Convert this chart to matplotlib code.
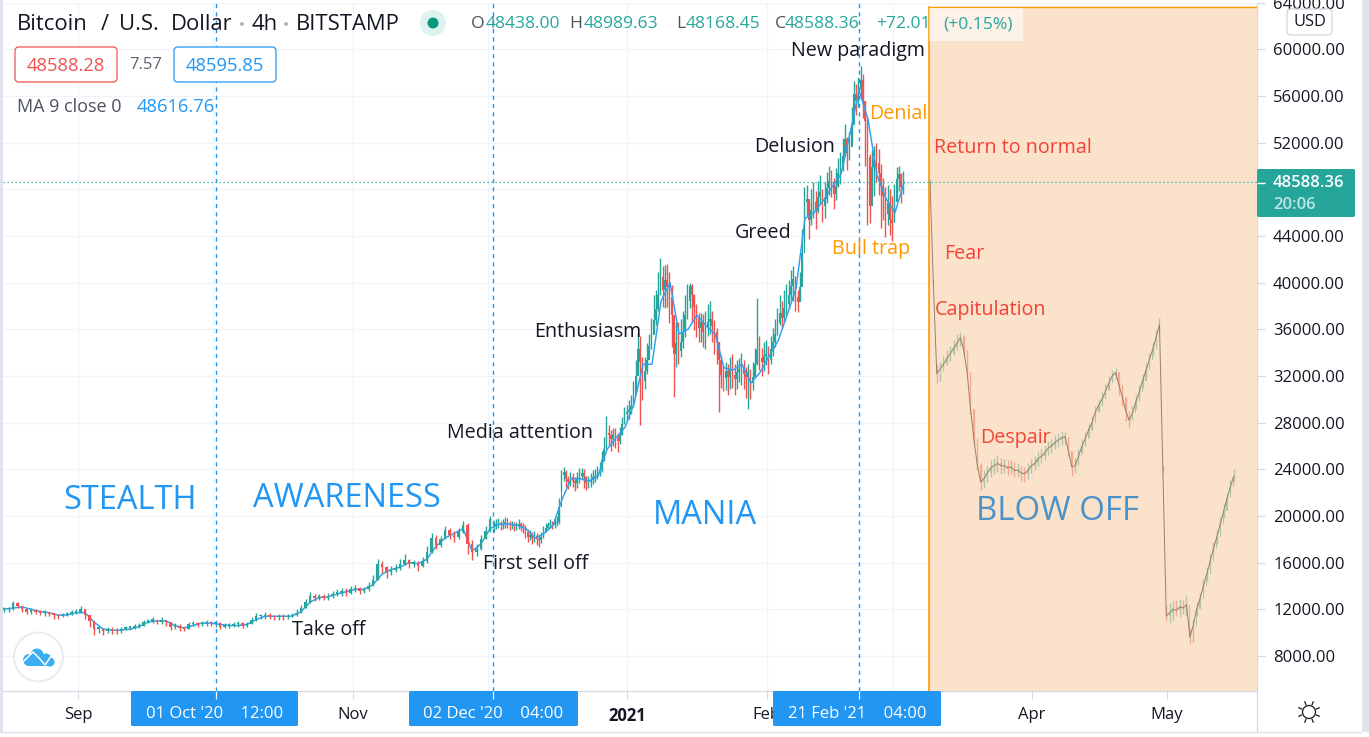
#!/usr/bin/env python3
# -*- coding: utf-8 -*-
import numpy as np
import matplotlib
matplotlib.use("Agg")
import matplotlib.pyplot as plt
from matplotlib.patches import Rectangle, FancyBboxPatch, Circle

plt.rcParams['font.family'] = ['Open Sans', 'DejaVu Sans']

# ---- data, prices in thousand USD ----
# Sep - start of Dec, one candle per day
close_early = [
    12.0,12.0,12.5,12.3,12.0,11.8,11.9,11.8,11.7,11.7,
    11.6,11.5,11.4,11.5,11.6,11.7,11.8,12.0,11.5,11.0,
    10.3,10.3,10.1,10.3,10.2,10.1,10.3,10.4,10.4,10.5,
    10.6,10.9,11.0,11.0,10.9,11.1,10.9,10.5,10.6,10.4,
    10.3,10.7,10.8,10.7,10.8,10.9,10.8,10.8,10.5,10.6,
    10.6,10.7,10.8,10.6,10.7,11.1,11.4,11.4,11.5,11.4,
    11.3,11.4,11.3,11.4,11.5,11.7,12.1,12.6,13.1,13.0,
    13.1,13.0,13.1,13.3,13.4,13.5,13.4,13.7,13.8,13.6,
    13.7,14.0,14.5,15.9,15.6,15.2,15.4,15.5,15.9,16.2,
    15.9,15.9,15.7,16.1,16.9,18.1,17.5,18.0,18.8,18.4,
    18.2,18.6,19.2,17.6,16.9,17.2,18.0,18.7,19.7]
high_early = [
    12.2,12.2,12.7,12.6,12.3,12.0,12.1,12.0,11.9,11.9,
    11.8,11.7,11.6,11.7,11.8,11.9,12.0,12.3,12.0,11.5,
    11.0,10.6,10.4,10.5,10.5,10.4,10.5,10.6,10.6,10.7,
    10.8,11.1,11.2,11.3,11.1,11.3,11.1,10.9,10.8,10.7,
    10.5,10.9,11.0,10.9,11.0,11.1,11.0,11.0,10.9,10.8,
    10.8,10.9,11.0,10.9,10.9,11.3,11.7,11.6,11.8,11.7,
    11.5,11.6,11.6,11.6,11.7,12.0,12.4,12.9,13.5,13.3,
    13.3,13.3,13.4,13.6,13.7,13.8,13.8,14.0,14.1,13.9,
    13.9,14.3,14.9,16.3,16.1,15.7,15.7,15.9,16.3,16.7,
    16.3,16.2,16.1,16.5,17.4,18.5,18.4,18.3,19.1,19.0,
    18.7,19.0,19.6,19.4,17.9,17.6,18.4,19.1,20.0]
low_early = [
    11.8,11.8,11.9,12.1,11.8,11.6,11.6,11.6,11.5,11.4,
    11.4,11.2,11.2,11.3,11.4,11.5,11.6,11.7,11.2,10.5,
    9.8,10.0,9.8,10.0,9.9,9.9,10.0,10.2,10.2,10.3,
    10.4,10.6,10.8,10.8,10.7,10.7,10.6,10.2,10.3,10.1,
    10.1,10.3,10.6,10.5,10.6,10.6,10.6,10.5,10.3,10.4,
    10.4,10.5,10.5,10.4,10.5,10.7,11.0,11.2,11.2,11.2,
    11.1,11.1,11.1,11.2,11.3,11.4,11.7,12.1,12.5,12.7,
    12.8,12.8,12.8,13.0,13.1,13.1,13.1,13.3,13.5,13.3,
    13.4,13.6,14.0,14.5,15.1,14.7,14.9,15.2,15.4,15.8,
    15.5,15.6,15.3,15.6,16.0,16.8,17.2,17.3,18.0,18.0,
    17.8,18.0,18.5,16.7,16.2,16.6,17.1,18.0,18.6]

# Dec - Mar, two candles per day
close_mania = [
    19.1,19.3,19.4,19.2,19.3,19.5,19.4,19.2,19.3,19.1,
    19.2,19.3,19.1,19.0,18.6,18.2,18.4,18.1,18.3,18.0,
    17.9,18.2,18.6,19.0,19.2,19.3,19.2,19.4,19.5,20.8,
    23.5,23.8,23.2,22.9,23.3,23.0,22.8,23.2,23.4,23.7,
    23.3,22.8,22.9,23.1,23.3,23.4,23.7,23.9,24.8,25.7,
    27.1,26.9,26.6,26.9,26.7,26.4,26.9,27.9,28.7,28.9,
    29.1,29.4,30.4,32.0,34.3,33.2,31.6,32.4,33.4,34.6,
    35.5,36.8,37.7,38.9,40.5,39.4,40.2,39.6,38.8,37.2,
    33.9,34.8,34.1,34.9,35.8,37.2,38.4,39.7,38.9,37.9,
    37.0,36.1,36.6,35.8,36.2,36.6,36.9,36.3,35.8,34.9,
    33.4,32.1,31.8,32.4,31.9,32.5,32.1,31.7,32.3,32.6,
    32.8,32.2,31.9,32.3,31.4,31.9,33.0,34.2,33.5,33.2,
    33.7,33.9,33.4,34.3,34.9,35.6,36.5,37.4,37.0,37.8,
    38.2,38.9,39.7,40.3,38.8,38.3,39.6,42.5,46.9,47.2,
    45.4,46.2,46.9,46.1,47.3,47.8,46.6,47.2,48.1,48.7,
    48.6,47.6,48.3,49.4,49.9,50.9,52.3,51.1,51.6,53.5,
    56.2,55.6,56.6,57.4,55.6,53.9,50.8,46.6,49.9,50.6,
    50.3,49.4,48.3,47.4,45.9,46.8,45.4,45.1,46.9,48.9,
    49.3,48.2,48.6]
high_mania = [
    19.6,19.7,19.8,19.6,19.7,19.9,19.8,19.6,19.6,19.5,
    19.5,19.7,19.5,19.4,19.2,18.9,18.8,18.6,18.7,18.5,
    18.4,18.6,19.1,19.4,19.5,19.7,19.6,19.8,20.0,21.5,
    23.9,24.2,23.9,23.4,23.8,23.7,23.3,23.8,24.1,24.1,
    24.0,23.4,23.4,23.7,23.9,24.0,24.3,24.6,25.6,26.8,
    28.6,27.8,27.4,27.5,27.5,27.1,27.6,28.5,29.3,29.5,
    29.9,30.4,31.6,33.4,35.7,35.4,33.6,33.6,34.8,35.6,
    37.0,38.9,39.4,40.9,42.1,41.4,41.5,41.6,40.9,39.8,
    36.4,36.6,36.6,36.9,37.6,38.9,39.9,40.0,39.9,39.0,
    38.2,37.4,37.4,37.3,37.6,38.2,38.4,37.6,36.8,36.1,
    34.9,33.8,32.9,33.2,33.0,33.6,33.9,33.0,33.4,33.5,
    34.0,33.4,32.8,33.0,32.6,33.2,34.4,38.7,35.4,34.4,
    34.9,35.1,34.6,35.4,36.1,36.9,37.8,38.9,38.4,39.4,
    39.9,40.2,41.1,41.4,40.6,39.4,40.9,44.6,48.2,48.4,
    47.0,48.0,48.6,47.9,48.7,49.2,48.0,48.6,49.5,50.0,
    49.7,49.0,49.8,50.7,51.2,52.4,53.6,52.5,52.9,55.1,
    57.3,57.0,57.6,58.6,57.9,55.6,54.2,51.0,51.4,51.7,
    52.0,51.5,50.2,49.0,48.2,48.4,48.0,47.4,48.5,49.9,
    50.0,49.4,49.6]
low_mania = [
    18.6,18.9,19.0,18.8,18.9,19.0,19.0,18.8,18.9,18.7,
    18.8,18.9,18.7,18.5,18.1,17.8,17.9,17.6,17.8,17.5,
    17.3,17.7,18.1,18.6,18.8,19.0,18.9,19.0,19.1,19.3,
    22.1,23.0,22.5,22.3,22.6,22.5,22.1,22.4,22.8,23.1,
    22.4,22.2,22.4,22.5,22.7,22.9,23.2,23.4,23.8,24.7,
    25.8,26.0,25.6,26.0,25.8,25.5,26.2,26.9,27.9,28.2,
    28.3,28.7,29.3,30.8,32.3,27.8,29.9,30.9,32.2,33.5,
    34.3,35.7,36.4,37.6,38.9,37.9,37.8,37.9,36.5,34.5,
    30.2,32.8,33.0,33.6,34.4,35.3,36.9,37.8,36.6,35.9,
    35.3,34.9,34.9,34.5,34.3,35.4,35.6,34.9,33.9,33.0,
    28.9,31.0,30.7,30.8,30.4,30.9,31.0,30.4,30.9,31.5,
    31.2,30.9,30.1,29.2,30.0,30.8,31.9,32.9,32.5,32.0,
    32.4,32.9,32.2,33.0,33.7,34.5,35.5,36.4,36.1,36.7,
    37.2,37.7,38.5,38.4,37.6,37.5,38.4,40.5,43.5,45.7,
    43.7,44.9,45.5,44.6,46.0,46.7,45.2,45.5,46.8,47.5,
    47.3,46.3,47.1,48.2,48.5,49.6,50.9,49.7,50.5,52.1,
    54.9,54.4,55.1,55.9,54.1,50.0,44.9,45.1,47.9,47.4,
    48.6,47.5,44.7,45.4,43.9,44.9,44.1,43.6,45.3,47.4,
    47.9,46.8,47.6]

# blow off pattern pasted in the shaded box
close_blow = [
    48.6,40.0,32.2,32.6,33.0,33.5,33.9,34.4,34.8,35.3,
    34.2,32.3,29.2,26.6,24.4,22.9,23.2,23.7,24.1,24.3,
    24.5,24.3,24.3,24.1,24.2,23.9,23.9,23.7,23.6,23.9,
    24.3,24.5,24.9,25.1,25.4,25.8,26.0,26.3,26.5,26.7,
    26.8,25.6,24.2,24.3,25.1,26.0,26.6,27.4,28.0,28.9,
    29.5,30.0,30.7,31.4,32.0,32.3,31.2,30.2,29.0,28.2,
    28.8,29.8,30.6,31.6,32.5,33.4,34.3,35.3,36.4,24.0,
    11.4,11.7,12.0,11.9,12.2,12.1,12.4,9.6,10.6,12.0,
    12.9,14.0,15.0,16.1,17.2,18.2,19.3,20.4,21.5,22.5,
    23.4]
high_blow = [
    48.9,40.3,33.0,33.2,33.7,34.2,34.6,35.1,35.6,35.8,
    35.5,34.2,32.3,29.2,26.6,24.5,23.9,24.3,24.8,25.0,
    25.2,25.0,24.9,24.8,24.8,24.6,24.5,24.3,24.2,24.5,
    24.9,25.1,25.5,25.7,26.0,26.4,26.6,26.9,27.1,27.3,
    27.2,26.8,25.6,25.0,25.7,26.6,27.2,27.9,28.6,29.4,
    30.0,30.6,31.3,32.0,32.5,32.7,32.3,31.2,30.2,29.0,
    29.4,30.4,31.2,32.2,33.1,34.0,34.9,35.9,37.0,24.3,
    12.3,12.5,12.7,12.8,12.9,12.8,13.1,10.4,11.2,12.6,
    13.4,14.6,15.6,16.7,17.8,18.8,19.9,21.0,22.0,23.1,
    24.0]
low_blow = [
    48.2,39.7,31.4,31.6,32.4,32.9,33.3,33.8,34.2,34.6,
    33.6,31.8,28.7,26.1,23.9,22.2,22.4,22.9,23.3,23.6,
    23.8,23.6,23.7,23.5,23.6,23.3,23.3,23.0,22.9,23.2,
    23.7,23.9,24.3,24.5,24.8,25.2,25.4,25.7,25.9,26.1,
    26.2,25.1,23.4,23.7,24.5,25.4,26.0,26.8,27.4,28.3,
    28.9,29.4,30.1,30.8,31.5,31.7,30.4,29.4,28.1,27.5,
    28.2,29.2,30.0,31.0,31.9,32.8,33.7,34.7,35.8,23.7,
    11.0,10.8,11.1,11.4,11.3,11.6,11.5,9.0,9.2,11.4,
    12.3,13.4,14.4,15.5,16.6,17.6,18.7,19.8,20.9,21.9,
    22.9]

# moving average, one point every two days
ma_values = [
    12.0,12.1,12.2,12.0,11.8,11.7,11.5,11.5,11.7,11.7,
    10.9,10.3,10.2,10.2,10.3,10.5,10.9,11.0,11.0,10.6,
    10.4,10.6,10.8,10.8,10.7,10.6,10.6,10.7,11.1,11.4,
    11.4,11.4,11.4,11.8,12.6,13.0,13.05,13.3,13.5,13.7,
    13.7,14.1,15.0,15.4,15.6,16.0,15.9,16.3,17.4,18.1,
    18.5,18.9,17.0,17.6,18.9,19.3,19.3,19.2,18.9,18.1,
    18.5,19.2,21.4,23.2,23.2,23.0,23.4,25.7,26.7,27.6,
    29.6,33.0,33.0,38.4,40.0,35.6,36.0,37.2,36.3,35.6,
    32.7,32.5,33.0,31.4,32.3,33.7,35.0,37.2,39.5,45.5,
    46.0,47.0,48.2,49.3,52.8,56.5,54.0,49.2,47.2,46.0,
    48.6]

price_ticks = [8000, 12000, 16000, 20000, 24000, 28000, 32000, 36000,
               40000, 44000, 48000, 52000, 56000, 60000, 64000]
month_days = [0, 30, 61, 91, 122, 153, 181, 212, 242]
month_labels = ['Sep', '', 'Nov', '', '2021', 'Feb', '', 'Apr', 'May']
crosshair_days = [30.6, 92.2, 173.5]
crosshair_labels = ["01 Oct '20    12:00", "02 Dec '20    04:00", "21 Feb '21    04:00"]
last_price = 48588.36

UP = '#26a69a'
DOWN = '#ef5350'
BLUE = '#2196f3'
ORANGE = '#ff9800'
RED = '#f44336'
INK = '#131722'
GRID = '#f0f3fa'
EDGE = '#d6d9e2'

W, H = 1369, 737


def candles(ax, start, step, close, high, low, zorder=2, body=0.8, wick=1.0, min_h=90, gap=np.inf):
    close = np.array(close) * 1000
    high = np.array(high) * 1000
    low = np.array(low) * 1000
    days = start + step * np.arange(len(close))
    opens = np.r_[close[0], close[:-1]]
    colors = np.where(close >= opens, UP, DOWN)
    # a jump bigger than gap gets no body, only the close line shows it
    jump = np.abs(close - opens)
    bottoms = np.where(jump > gap, close, np.minimum(close, opens))
    heights = np.where(jump > gap, min_h, np.maximum(jump, min_h))
    ax.vlines(days, low, high, colors=colors, lw=wick, zorder=zorder)
    ax.bar(days, heights, bottom=bottoms, width=step * body, color=colors, lw=0, zorder=zorder)
    return days, close


fig = plt.figure(figsize=(W / 100, H / 100), dpi=100, facecolor='white')

# main chart, placed so the pixels line up with the screenshot
top_px = 2.73
ax = fig.add_axes([3 / W, (H - 691) / H, 1254 / W, (691 - top_px) / H])
ax.set_xlim(-16.667, 262)
ax.set_ylim(4986, 64000)
ax.set_axisbelow(True)
ax.yaxis.tick_right()
ax.set_yticks(price_ticks)
# 48000 sits behind the last price box
ax.set_yticklabels(['' if t == 48000 else f'{t:.2f}' for t in price_ticks])
ax.set_xticks(month_days)
ax.set_xticklabels(month_labels)
ax.get_xticklabels()[4].set_fontweight('bold')
ax.tick_params(axis='y', length=5.8, width=0.8, color=EDGE, pad=5.8, labelsize=12, labelcolor=INK)
ax.tick_params(axis='x', length=5.8, width=0.8, color=EDGE, pad=5.5, labelsize=12, labelcolor=INK)
ax.grid(True, color=GRID, lw=0.9)
for name, spine in ax.spines.items():
    spine.set_visible(name in ('right', 'bottom'))
    spine.set_color(EDGE)
    spine.set_linewidth(0.9)

# early candles sit above the average, the wild ones below it
candles(ax, -16.44, 1.0, close_early, high_early, low_early, zorder=2.6, body=0.6, min_h=140)
candles(ax, 92.44, 0.5, close_mania, high_mania, low_mania)
ma_days = -16.44 + 2.0 * np.arange(len(ma_values))
ax.plot(ma_days, np.array(ma_values) * 1000, color='#2f9ff5', lw=1.05, zorder=2.5)

blow_days, blow_close = candles(ax, 189.33, 0.75, close_blow, high_blow, low_blow, body=0.32, gap=5000)
box_left, box_right, box_top = 189.1, 262, 63630
ax.add_patch(Rectangle((box_left, 4986), box_right - box_left, box_top - 4986,
                       facecolor='#fad5b0', alpha=0.65, lw=0, zorder=3))
ax.plot(blow_days, blow_close, color='#96806c', lw=0.7, zorder=3.2)
ax.plot([box_left, box_left], [4986, box_top], color=ORANGE, lw=1.2, zorder=3.4)
ax.plot([box_left, box_right], [box_top, box_top], color=ORANGE, lw=1.0, zorder=3.4)

for day in crosshair_days:
    ax.axvline(day, color=BLUE, lw=1.0, dashes=(3, 3), zorder=2.7)
ax.axhline(last_price, color=UP, lw=0.9, dashes=(1, 2.2), zorder=3.6)

# everything from here on is in screen pixels
ui = fig.add_axes([0, 0, 1, 1])
ui.set_xlim(0, W)
ui.set_ylim(H, 0)
ui.axis('off')
ui.patch.set_visible(False)


def label(x, y, s, color=INK, size=14.2, ha='left', **kw):
    # +2: va=center sits a little high for this font
    ui.text(x, y + 2, s, color=color, fontsize=size, ha=ha, va='center', **kw)


def button(x0, y0, x1, y1, edge, face='white'):
    ui.add_patch(FancyBboxPatch((x0 + 3, y0 + 3), x1 - x0 - 6, y1 - y0 - 6,
                                boxstyle='round,pad=3,rounding_size=4',
                                fc=face, ec=edge, lw=0.9, zorder=4))


# frame of the window
ui.add_patch(Rectangle((0, 0), 3, H, fc='#e0e3eb', lw=0))
ui.add_patch(Rectangle((1362, 0), 7, H, fc='#e0e3eb', lw=0))
ui.add_patch(Rectangle((0, 732), W, 5, fc='white', lw=0))
ui.hlines(732, 0, 1362, color='#e0e3eb', lw=1)
ui.vlines(1257, 691, 732, color=EDGE, lw=0.9)

# header
for x, s in [(17, 'Bitcoin'), (101, '/'), (119, 'U.S.'), (171, 'Dollar'), (252, '4h'), (296, 'BITSTAMP')]:
    label(x, 22, s, size=15.8)
for x in (242, 286):
    ui.add_patch(Circle((x, 24), 2, fc='#b2b5be', lw=0))
ui.add_patch(Circle((433, 23), 13, fc='#e0f2f0', lw=0))
ui.add_patch(Circle((433, 23), 5.5, fc='#089981', lw=0))
ui.add_patch(Rectangle((929, 8), 94, 33, fc='white', alpha=0.55, lw=0, zorder=1))
ohlc = [(471, 'O', '48438.00'), (569, 'H', '48989.63'), (676, 'L', '48168.45'), (775, 'C', '48588.36')]
for x, letter, value in ohlc:
    label(x, 22, letter, color='#4c525e', size=12.6)
    label(x + (15 if letter in 'OH' else 10), 22, value, color=UP, size=12.6)
label(876, 22, '+72.01', color=UP, size=12.6)
label(943, 22, '(+0.15%)', color=UP, size=12.6)

button(15, 47, 117, 82, DOWN)
ui.text(66, 66, '48588.28', color=DOWN, fontsize=13.2, ha='center', va='center', zorder=5)
label(146, 63, '7.57', color='#5d606b', size=12, ha='center')
button(174, 47, 276, 82, BLUE)
ui.text(225, 66, '48595.85', color=BLUE, fontsize=13.2, ha='center', va='center', zorder=5)
label(17, 105, 'MA 9 close 0', color='#4c525e', size=13)
label(137, 105, '48616.76', color=BLUE, size=13.2)

# phase names and stages
for x, y, s in [(63, 498, 'STEALTH'), (253, 496, 'AWARENESS'), (653, 513, 'MANIA')]:
    label(x, y, s, color=BLUE, size=23.5)
label(976, 509, 'BLOW OFF', color='#4b92c9', size=23.8)
for x, y, s in [(791, 49, 'New paradigm'), (754, 145, 'Delusion'), (735, 231, 'Greed'),
                (534, 330, 'Enthusiasm'), (447, 431, 'Media attention'),
                (483, 562, 'First sell off'), (292, 628, 'Take off')]:
    label(x, y, s)
for x, y, s in [(869, 112, 'Denial'), (832, 247, 'Bull trap')]:
    label(x, y, s, color=ORANGE)
for x, y, s in [(934, 146, 'Return to normal'), (944, 252, 'Fear'),
                (935, 308, 'Capitulation'), (980, 436, 'Despair')]:
    label(x, y, s, color=RED)

# price scale extras
button(1287, 9, 1332, 35, '#d1d4dc')
ui.text(1309.5, 22, 'USD', color=INK, fontsize=11.8, ha='center', va='center', zorder=5)
ui.add_patch(FancyBboxPatch((1259, 171), 94, 44, boxstyle='round,pad=2,rounding_size=2',
                            fc=UP, lw=0, zorder=4))
ui.hlines(182.5, 1257, 1265, color='white', lw=1, zorder=5)
ui.text(1273, 183, '48588.36', color='white', fontsize=12, fontweight='semibold', va='center', zorder=5)
ui.text(1273, 205, '20:06', color='#bfe6e2', fontsize=12, fontweight='semibold', va='center', zorder=5)

# crosshair date boxes
for day, text_, (x0, x1) in zip(crosshair_days, crosshair_labels,
                                [(131, 298), (409, 578), (773, 941)]):
    ui.add_patch(FancyBboxPatch((x0 + 1, 692), x1 - x0 - 2, 33, boxstyle='round,pad=1,rounding_size=1.5',
                                fc=BLUE, lw=0, zorder=4))
    ui.text((x0 + x1) / 2, 714, text_, color='white', fontsize=12, ha='center', va='center', zorder=5)
    tick_x = 3 + (day + 16.667) / 278.667 * 1254
    ui.vlines(tick_x, 691, 699, color='white', lw=0.9, zorder=5)

# sun icon for the theme switch
ui.add_patch(Circle((1309, 712), 6.5, fc='none', ec=INK, lw=0.9))
for angle in np.deg2rad(np.arange(0, 360, 45) + 22.5):
    ui.plot([1309 + 8 * np.cos(angle), 1309 + 11 * np.cos(angle)],
            [712 + 8 * np.sin(angle), 712 + 11 * np.sin(angle)], color=INK, lw=0.9)

# logo bubble
ui.add_patch(Circle((38.5, 657), 24.5, fc='white', ec='#ebebeb', lw=1.4, zorder=4))
for cx, cy, r in [(29, 660, 6), (37, 655, 6.5), (46, 659, 5.5), (50, 662, 4.5)]:
    ui.add_patch(Circle((cx, cy), r, fc='#3aaef0', lw=0, zorder=4.1))
ui.add_patch(Rectangle((27, 660), 23, 6, fc='#3aaef0', lw=0, zorder=4.1))
ui.plot([22, 33, 39, 45, 54], [663, 652, 658, 665, 652], color='white', lw=1.1, zorder=4.2)

fig.savefig('out.png', dpi=100)
